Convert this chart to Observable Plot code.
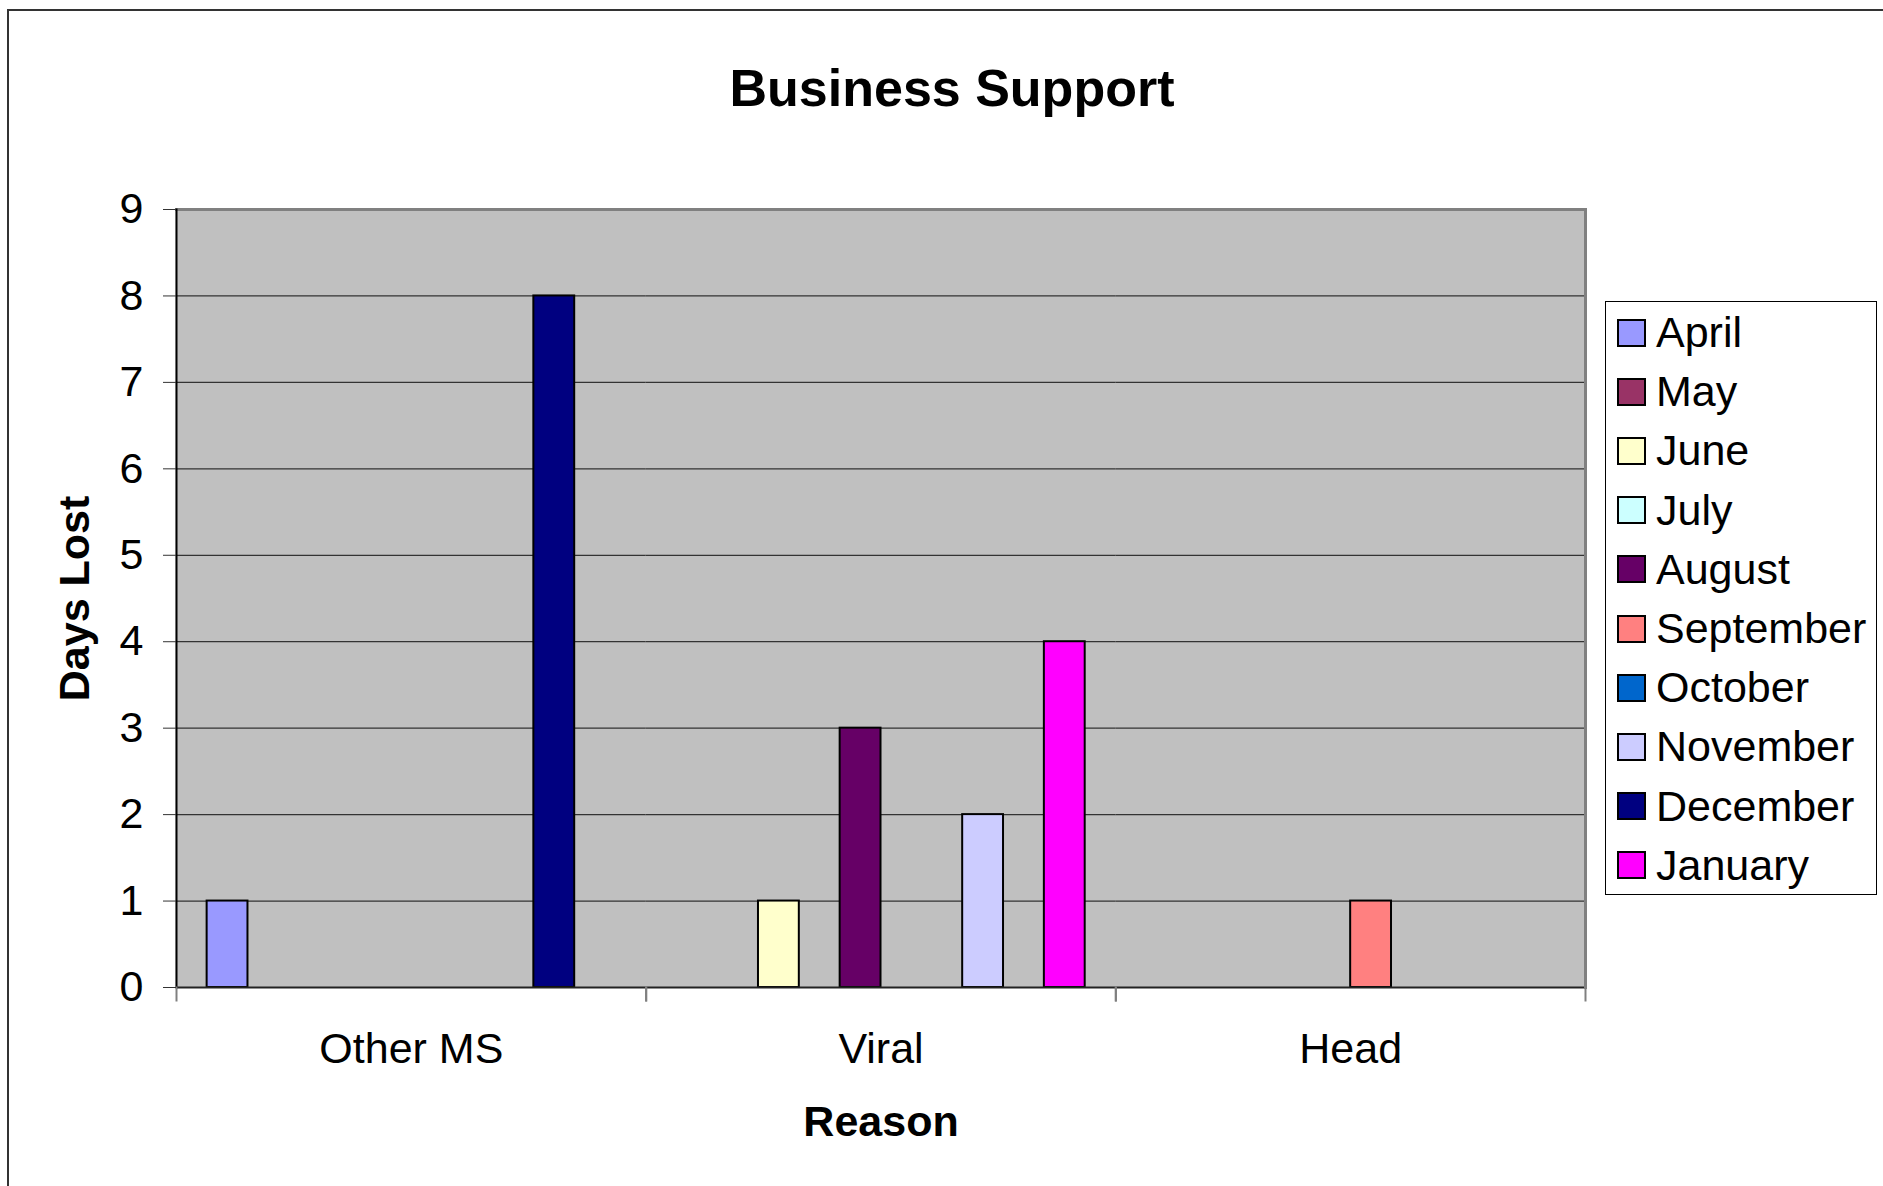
<!DOCTYPE html>
<html>
<head>
<meta charset="utf-8">
<script src="https://cdn.jsdelivr.net/npm/d3@7"></script>
<script src="https://cdn.jsdelivr.net/npm/@observablehq/plot@0.6"></script>
<style>
  html, body { margin: 0; padding: 0; background: #fff; overflow: hidden; }
  #wrap { position: relative; width: 1883px; height: 1186px; overflow: hidden; font-family: "Liberation Sans", Arial, sans-serif; }
  #frameBorder { position: absolute; left: 7px; top: 9px; width: 3000px; height: 3000px; border: 2px solid #333; box-sizing: border-box; pointer-events: none; }
  #title { height: 150px; box-sizing: border-box; padding-top: 58px; padding-left: 21px; text-align: center; font-size: 52px; line-height: 60px; font-weight: bold; color: #000; }
  #chart svg { display: block; }
  #legend { position: absolute; left: 1605px; top: 301px; width: 272px; height: 594px; box-sizing: border-box; border: 1px solid #000; background: #fff; padding-top: 1px; }
  .item { display: flex; align-items: center; height: 59.2px; }
  .sw { width: 29px; height: 28px; box-sizing: border-box; border: 2px solid #000; margin-left: 11px; margin-right: 10px; flex: none; }
  .lbl { font-size: 43px; line-height: 43px; color: #000; white-space: nowrap; }
</style>
</head>
<body>
<div id="wrap">
  <div id="frameBorder"></div>
  <div id="title"></div>
  <div id="chart"></div>
  <div id="legend"></div>
</div>
<script>
// ---- data ----
const titleText = "Business Support";
const xTitle = "Reason";
const yTitle = "Days Lost";
const reasons = ["Other MS", "Viral", "Head"];
const months = ["April", "May", "June", "July", "August", "September", "October", "November", "December", "January"];
const monthColors = ["#9999FF", "#993366", "#FFFFCC", "#CCFFFF", "#660066", "#FF8080", "#0066CC", "#CCCCFF", "#000080", "#FF00FF"];
// days lost per month (April..January) for each reason
const otherMSDays = [1, 0, 0, 0, 0, 0, 0, 0, 8, 0];
const viralDays   = [0, 0, 1, 0, 3, 0, 0, 2, 0, 4];
const headDays    = [0, 0, 0, 0, 0, 1, 0, 0, 0, 0];
const yTicks = [0, 1, 2, 3, 4, 5, 6, 7, 8, 9];

// ---- build table ----
const seriesByReason = [otherMSDays, viralDays, headDays];
const rows = reasons.flatMap((r, i) =>
  seriesByReason[i].map((v, j) => ({reason: r, month: months[j], days: v}))
).filter(d => d.days > 0);

document.getElementById("title").textContent = titleText;

const W = 1883, H = 1036;
const mTop = 59, mBottom = 199, mLeft = 176, mRight = 298;
const innerH = H - mTop - mBottom;

const plot = Plot.plot({
  width: W,
  height: H,
  marginTop: mTop,
  marginBottom: mBottom,
  marginLeft: mLeft,
  marginRight: mRight,
  style: {fontFamily: "'Liberation Sans', Arial, sans-serif", background: "transparent", overflow: "visible", color: "#000"},
  fx: {domain: reasons, padding: 0, round: false},
  x: {domain: months, paddingInner: 0, paddingOuter: 0.75, round: false, axis: null},
  y: {domain: [0, 9]},
  color: {domain: months, range: monthColors},
  marks: [
    Plot.frame({fill: "#C0C0C0", stroke: "none", insetLeft: -1, insetRight: -1}),
    Plot.gridY(yTicks.filter(t => t > 0 && t < 9), {stroke: "#333", strokeOpacity: 1, strokeWidth: 1.2}),
    Plot.barY(rows, {fx: "reason", x: "month", y: "days", fill: "month", stroke: "#000", strokeWidth: 2}),
    Plot.ruleY([0], {stroke: "#222", strokeWidth: 2}),
    Plot.frame({anchor: "top", stroke: "#808080", strokeWidth: 3}),
    Plot.frame({anchor: "right", stroke: "#808080", strokeWidth: 3, facetAnchor: "right"}),
    Plot.frame({anchor: "left", stroke: "#000", strokeWidth: 2, facetAnchor: "left"}),
    Plot.frame({anchor: "left", stroke: "#808080", strokeWidth: 2, insetTop: innerH, insetBottom: -13}),
    Plot.frame({anchor: "right", stroke: "#808080", strokeWidth: 2, insetTop: innerH, insetBottom: -13}),
    Plot.axisY({ticks: yTicks, tickSize: 13, tickPadding: 20, fontSize: 43, stroke: "#333", label: null, tickFormat: d => String(d)}),
    Plot.text([yTitle], {text: d => d, frameAnchor: "left", textAnchor: "middle", lineAnchor: "middle", rotate: -90, dx: -101, fontSize: 43, fontWeight: "bold", facetAnchor: "left"}),
    Plot.axisFx({anchor: "bottom", tickSize: 0, tickPadding: 45, fontSize: 43, label: null}),
    Plot.axisFx({anchor: "bottom", ticks: [], tickSize: 0, fontSize: 43, fontWeight: "bold", label: xTitle, labelAnchor: "center", labelOffset: 148})
  ]
});
document.getElementById("chart").appendChild(plot);

// ---- legend ----
const legend = document.getElementById("legend");
months.forEach((m, i) => {
  const item = document.createElement("div");
  item.className = "item";
  const sw = document.createElement("div");
  sw.className = "sw";
  sw.style.background = monthColors[i];
  const lbl = document.createElement("span");
  lbl.className = "lbl";
  lbl.textContent = m;
  item.appendChild(sw);
  item.appendChild(lbl);
  legend.appendChild(item);
});
</script>
</body>
</html>
